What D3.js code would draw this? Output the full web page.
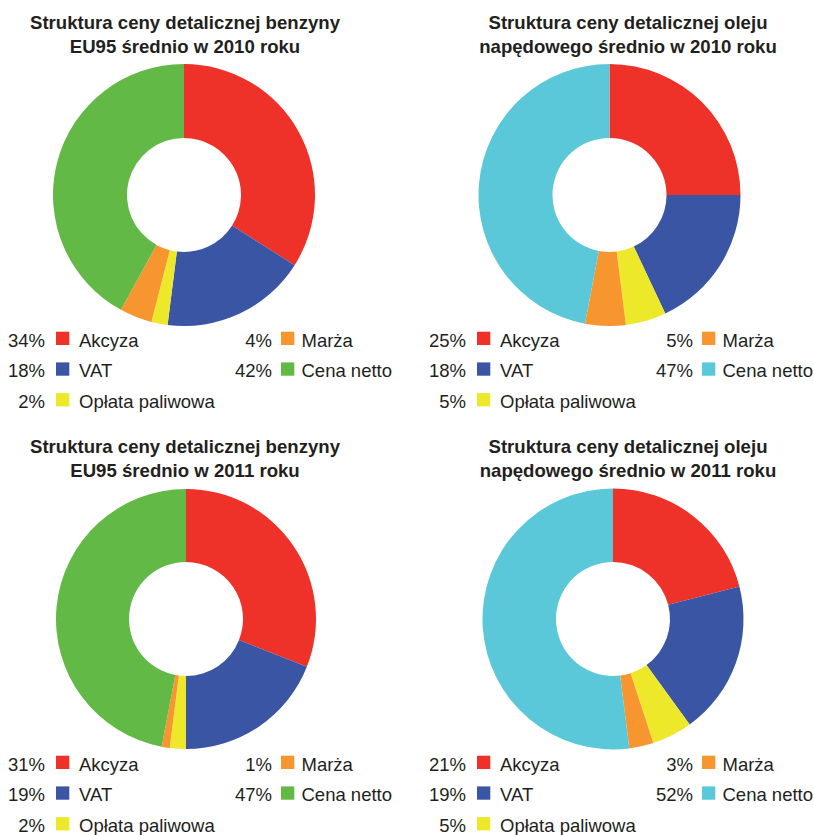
<!DOCTYPE html>
<html>
<head>
<meta charset="utf-8">
<script src="https://cdn.jsdelivr.net/npm/d3@7"></script>
<style>
  html, body { margin: 0; padding: 0; background: #fff; }
  svg { display: block; }
  text { font-family: "Liberation Sans", Arial, Helvetica, sans-serif; fill: #231f20; }
</style>
</head>
<body>
<svg id="chart" width="814" height="835"></svg>
<script>
// Components of the retail fuel price, in clockwise order from 12 o'clock
const categories = ["Akcyza", "VAT", "Opłata paliwowa", "Marża", "Cena netto"];

// Shares (%) for each chart
const benzyna2010 = [34, 18, 2, 4, 42];
const olej2010    = [25, 18, 5, 5, 47];
const benzyna2011 = [31, 19, 2, 1, 47];
const olej2011    = [21, 19, 5, 3, 52];

// Chart titles (two lines each)
const titles = [
  ["Struktura ceny detalicznej benzyny", "EU95 średnio w 2010 roku"],
  ["Struktura ceny detalicznej oleju", "napędowego średnio w 2010 roku"],
  ["Struktura ceny detalicznej benzyny", "EU95 średnio w 2011 roku"],
  ["Struktura ceny detalicznej oleju", "napędowego średnio w 2011 roku"]
];

// Slice colours; the net price is green for petrol and cyan for diesel
const petrolColors = ["#ee3129", "#3a55a3", "#ede82a", "#f7962e", "#62b946"];
const dieselColors = ["#ee3129", "#3a55a3", "#ede82a", "#f7962e", "#5bc8da"];

// Legend columns: which categories go in which column
const legendCol1 = ["Akcyza", "VAT", "Opłata paliwowa"];
const legendCol2 = ["Marża", "Cena netto"];

const panels = [
  { values: benzyna2010, title: titles[0], colors: petrolColors, cx: 184, cy: 195, R: 131, titleX: 185, top: 0,   lx: 0 },
  { values: olej2010,    title: titles[1], colors: dieselColors, cx: 609.5, cy: 195, R: 131, titleX: 628, top: 0,   lx: 421 },
  { values: benzyna2011, title: titles[2], colors: petrolColors, cx: 186, cy: 619, R: 130, titleX: 185, top: 424, lx: 0 },
  { values: olej2011,    title: titles[3], colors: dieselColors, cx: 613, cy: 619, R: 130.5, titleX: 628, top: 424, lx: 421 }
];

const svg = d3.select("#chart");
const pie = d3.pie().sort(null).value(d => d.value);

panels.forEach(p => {
  const g = svg.append("g");
  const color = d3.scaleOrdinal().domain(categories).range(p.colors);
  const data = categories.map((c, i) => ({ name: c, value: p.values[i] }));

  // title
  const t = g.append("text")
    .attr("text-anchor", "middle")
    .attr("font-weight", "bold")
    .attr("font-size", "18.6px");
  p.title.forEach((line, i) => {
    t.append("tspan").attr("x", p.titleX).attr("y", p.top + 29 + i * 23.7).text(line);
  });

  // donut
  const arc = d3.arc().innerRadius(57).outerRadius(p.R);
  g.append("g")
    .attr("transform", `translate(${p.cx},${p.cy})`)
    .selectAll("path")
    .data(pie(data))
    .join("path")
    .attr("d", arc)
    .attr("fill", d => color(d.data.name));

  // legend
  const byName = new Map(data.map(d => [d.name, d.value]));
  const cols = [
    { names: legendCol1, pctX: 45, boxX: 56, labelX: 79 },
    { names: legendCol2, pctX: 272, boxX: 281, labelX: 301.5 }
  ];
  cols.forEach(col => {
    col.names.forEach((name, i) => {
      const base = p.top + 346.7 + i * 30.7;
      g.append("text")
        .attr("x", p.lx + col.pctX).attr("y", base)
        .attr("text-anchor", "end")
        .attr("font-size", "18.5px")
        .text(byName.get(name) + "%");
      g.append("rect")
        .attr("x", p.lx + col.boxX).attr("y", base - 15)
        .attr("width", 13.3).attr("height", 13.3)
        .attr("fill", color(name));
      g.append("text")
        .attr("x", p.lx + col.labelX).attr("y", base)
        .attr("font-size", "18.5px")
        .text(name);
    });
  });
});
</script>
</body>
</html>
